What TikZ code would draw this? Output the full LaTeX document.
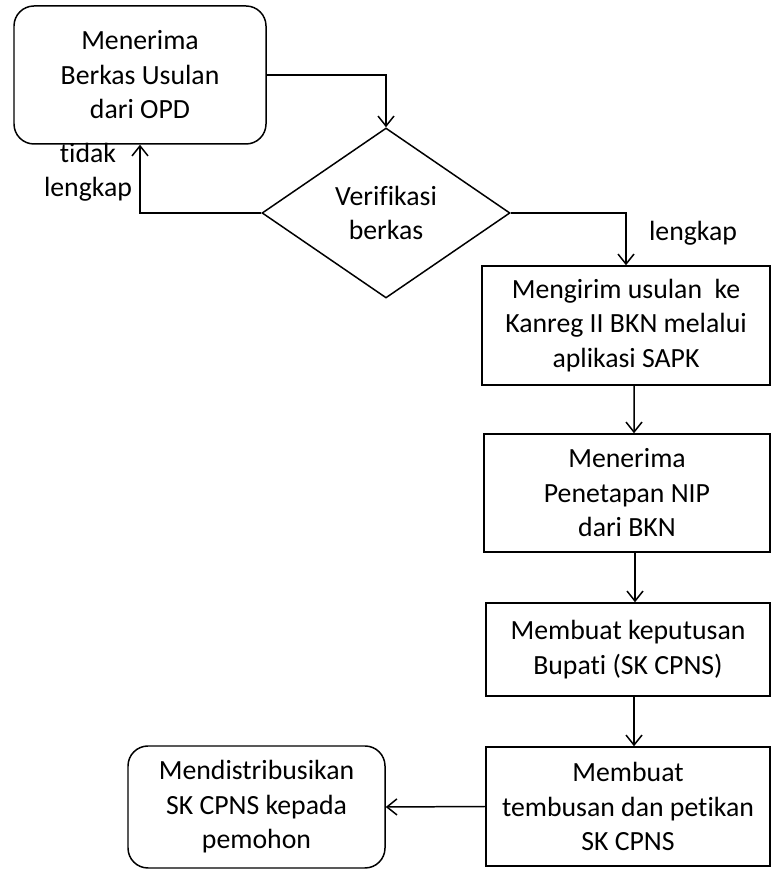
\documentclass[tikz,border=0pt]{standalone}
\usepackage{fontspec}
\setmainfont{Carlito}[Ligatures=NoCommon]
\usepackage{tikz}
\usetikzlibrary{shapes.geometric,arrows.meta}

\begin{document}
\begin{tikzpicture}[line width=0.85pt, >={Straight Barb[length=2mm,width=3.2mm]},
  every node/.style={font=\fontsize{15.8}{19.6}\selectfont, align=center},
  term/.style={draw, rounded corners=0.4cm, inner sep=0pt},
  proc/.style={draw, inner sep=0pt},
  dec/.style={draw, diamond, aspect=1.46, inner sep=0pt, minimum width=4.96cm, minimum height=3.4cm}]
\useasboundingbox (0,0) rectangle (15.42,17.44);

% terminators and decision
\node[term, minimum width=5.04cm, minimum height=2.76cm] (terima) at (2.80,15.94) {Menerima\\Berkas Usulan\\dari OPD};
\node[dec] (verif) at (7.72,13.18) {Verifikasi\\berkas};

% process boxes
\node[proc, minimum width=5.76cm, minimum height=2.38cm] (kirim) at (12.52,10.93) {Mengirim usulan\ \ ke\\Kanreg II BKN melalui\\aplikasi SAPK};
\node[proc, minimum width=5.72cm, minimum height=2.36cm] (nip) at (12.54,7.58) {Menerima\\Penetapan NIP\\dari BKN};
\node[proc, minimum width=5.68cm, minimum height=1.86cm] (sk) at (12.56,4.45) {Membuat keputusan\\Bupati (SK CPNS)};
\node[proc, minimum width=5.68cm, minimum height=2.38cm] (petikan) at (12.56,1.31) {Membuat\\tembusan dan petikan\\SK CPNS};
\node[term, minimum width=5.14cm, minimum height=2.44cm] (distribusi) at (5.13,1.30) {Mendistribusikan\\SK CPNS kepada\\pemohon};

% labels
\node (tidak) at (1.76,14.0) {tidak\\lengkap};
\node (lengkap) at (13.86,12.78) {lengkap};

% arrows
\draw[->] (terima.east) -| (verif.north);
\draw[->] (verif.west) -| (terima.south);
\draw[->] (verif.east) -| (kirim.north);
\draw[->] ([xshift=0.16cm]kirim.south) -- ([xshift=0.14cm]nip.north);
\draw[->] ([xshift=0.16cm]nip.south) -- ([xshift=0.14cm]sk.north);
\draw[->] ([xshift=0.12cm]sk.south) -- ([xshift=0.12cm]petikan.north);
\draw[->] (petikan.west) -- (distribusi.east);
\end{tikzpicture}
\end{document}
